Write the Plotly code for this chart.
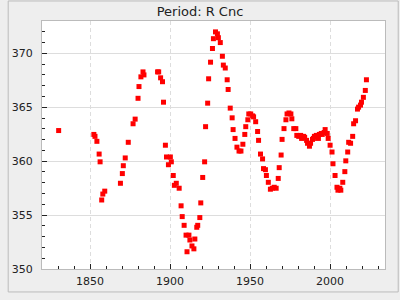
import plotly.graph_objects as go

years = [1830.4, 1852.4, 1853.1, 1854.3, 1855.7, 1856.3, 1857.3, 1858.0, 1859.2,
         1869.0, 1870.2, 1870.8, 1872.0, 1873.9, 1876.9, 1878.2, 1880.0, 1880.6,
         1881.8, 1883.1, 1883.7, 1892.2, 1892.9, 1894.1, 1895.3, 1895.9, 1897.1,
         1897.8, 1899.0, 1900.2, 1900.8, 1902.0, 1902.7, 1903.9, 1905.7, 1906.9,
         1907.6, 1908.8, 1910.0, 1910.6, 1911.8, 1912.4, 1913.7, 1914.9, 1915.5,
         1916.7, 1917.3, 1918.6, 1919.2, 1920.4, 1921.6, 1922.2, 1923.5, 1924.1,
         1925.3, 1926.5, 1927.1, 1928.4, 1929.6, 1930.2, 1931.4, 1932.7, 1933.3,
         1934.5, 1935.7, 1936.3, 1937.6, 1938.8, 1939.4, 1940.6, 1941.8, 1943.1,
         1944.3, 1945.5, 1946.7, 1947.3, 1948.6, 1949.2, 1950.4, 1951.6, 1952.2,
         1953.5, 1954.7, 1955.3, 1956.5, 1957.8, 1958.4, 1959.6, 1960.2, 1961.4,
         1962.7, 1963.9, 1965.1, 1966.3, 1967.6, 1968.2, 1969.4, 1970.0, 1971.2,
         1972.4, 1973.1, 1974.3, 1975.5, 1976.1, 1977.3, 1978.6, 1979.2, 1980.4,
         1981.6, 1982.2, 1983.5, 1984.1, 1985.3, 1985.9, 1987.1, 1987.8, 1989.0,
         1989.6, 1990.2, 1991.4, 1992.7, 1993.3, 1994.5, 1995.1, 1996.3, 1996.9,
         1998.2, 1998.8, 2000.0, 2001.2, 2001.8, 2003.1, 2004.3, 2004.9, 2006.1,
         2006.7, 2007.9, 2009.2, 2009.8, 2011.0, 2011.6, 2012.8, 2014.1, 2014.7,
         2015.9, 2017.1, 2017.8, 2019.0, 2019.6, 2020.8, 2022.0, 2022.7]

periods = [362.84, 362.48, 362.30, 361.84, 360.66, 359.94, 356.40, 356.95, 357.22,
           357.95, 358.85, 359.58, 360.30, 361.75, 363.47, 363.90, 365.83, 366.92,
           367.82, 368.28, 368.00, 368.28, 368.28, 367.73, 367.37, 365.47, 361.48,
           360.39, 359.67, 360.39, 359.94, 358.67, 357.76, 357.95, 357.49, 355.86,
           354.86, 354.05, 353.14, 351.60, 353.14, 352.69, 352.14, 351.87, 352.78,
           353.87, 354.05, 354.77, 356.13, 358.49, 359.94, 363.20, 365.38, 367.64,
           369.18, 370.45, 371.36, 371.99, 371.81, 371.45, 371.00, 369.73, 368.91,
           368.64, 367.55, 366.65, 364.92, 364.02, 362.93, 362.11, 361.30, 360.94,
           360.94, 361.57, 362.48, 363.20, 363.84, 364.38, 364.38, 364.20, 364.11,
           363.66, 362.75, 361.93, 360.66, 360.21, 359.31, 359.21, 358.67, 358.04,
           357.40, 357.49, 357.58, 357.49, 358.40, 359.40, 360.57, 362.02, 363.02,
           363.84, 364.38, 364.47, 364.38, 363.93, 363.02, 363.02, 362.39, 362.30,
           362.39, 362.11, 362.30, 362.20, 361.93, 361.66, 361.39, 361.66, 362.02,
           362.11, 362.30, 362.39, 362.11, 362.48, 362.57, 362.48, 362.66, 362.93,
           362.57, 362.11, 361.48, 360.85, 359.76, 358.67, 357.58, 357.31, 357.49,
           357.31, 358.04, 359.03, 360.03, 360.85, 361.75, 361.66, 362.30, 363.47,
           363.75, 364.83, 365.01, 365.20, 365.47, 365.92, 366.56, 367.55]

title_text = "Period: R Cnc"

fig = go.Figure()
fig.add_trace(go.Scatter(
    x=years, y=periods, mode="markers",
    marker=dict(symbol="square", size=5, color="#ff0000", line=dict(width=0)),
    showlegend=False, hoverinfo="x+y"))

W, H = 400, 300
L, R, T, B = 35, 15, 21, 25
pw, ph = W - L - R, H - T - B

def px2paper_x(px):
    return (px - L) / pw

def px2paper_y(py):
    return (H - B - py) / ph

fig.add_shape(type="rect", xref="paper", yref="paper",
              x0=px2paper_x(0.5), x1=px2paper_x(398.5),
              y0=px2paper_y(298.5), y1=px2paper_y(0.5),
              line=dict(color="#bbbbbb", width=1), layer="below")

fig.update_layout(
    width=W, height=H,
    margin=dict(l=L, r=R, t=T, b=B),
    paper_bgcolor="#eeeeee", plot_bgcolor="#ffffff",
    font=dict(family="DejaVu Sans", size=11, color="#222222"),
    title=dict(text=title_text, x=0.5, xanchor="center", y=1 - 11 / H, yanchor="middle",
               font=dict(family="DejaVu Sans", size=13, color="#222222")),
)
fig.update_xaxes(
    range=[1820, 2034.3], dtick=50, tick0=1850,
    showgrid=True, gridcolor="#dddddd", griddash="4px,3px", gridwidth=1,
    ticks="inside", ticklen=5, tickcolor="#222222", tickwidth=1,
    minor=dict(dtick=10, tick0=1850, ticks="inside", ticklen=3, tickcolor="#222222", showgrid=False),
    showline=True, linecolor="#bbbbbb", linewidth=1, mirror=True,
    zeroline=False, ticklabelstandoff=2,
)
fig.update_yaxes(
    range=[350, 373], dtick=5, tick0=350,
    showgrid=True, gridcolor="#dddddd", gridwidth=1,
    ticks="inside", ticklen=5, tickcolor="#222222", tickwidth=1,
    minor=dict(dtick=1, tick0=350, ticks="inside", ticklen=3, tickcolor="#222222", showgrid=False),
    showline=True, linecolor="#bbbbbb", linewidth=1, mirror=True,
    zeroline=False, ticklabelstandoff=6,
)

fig.write_html("out.html")
